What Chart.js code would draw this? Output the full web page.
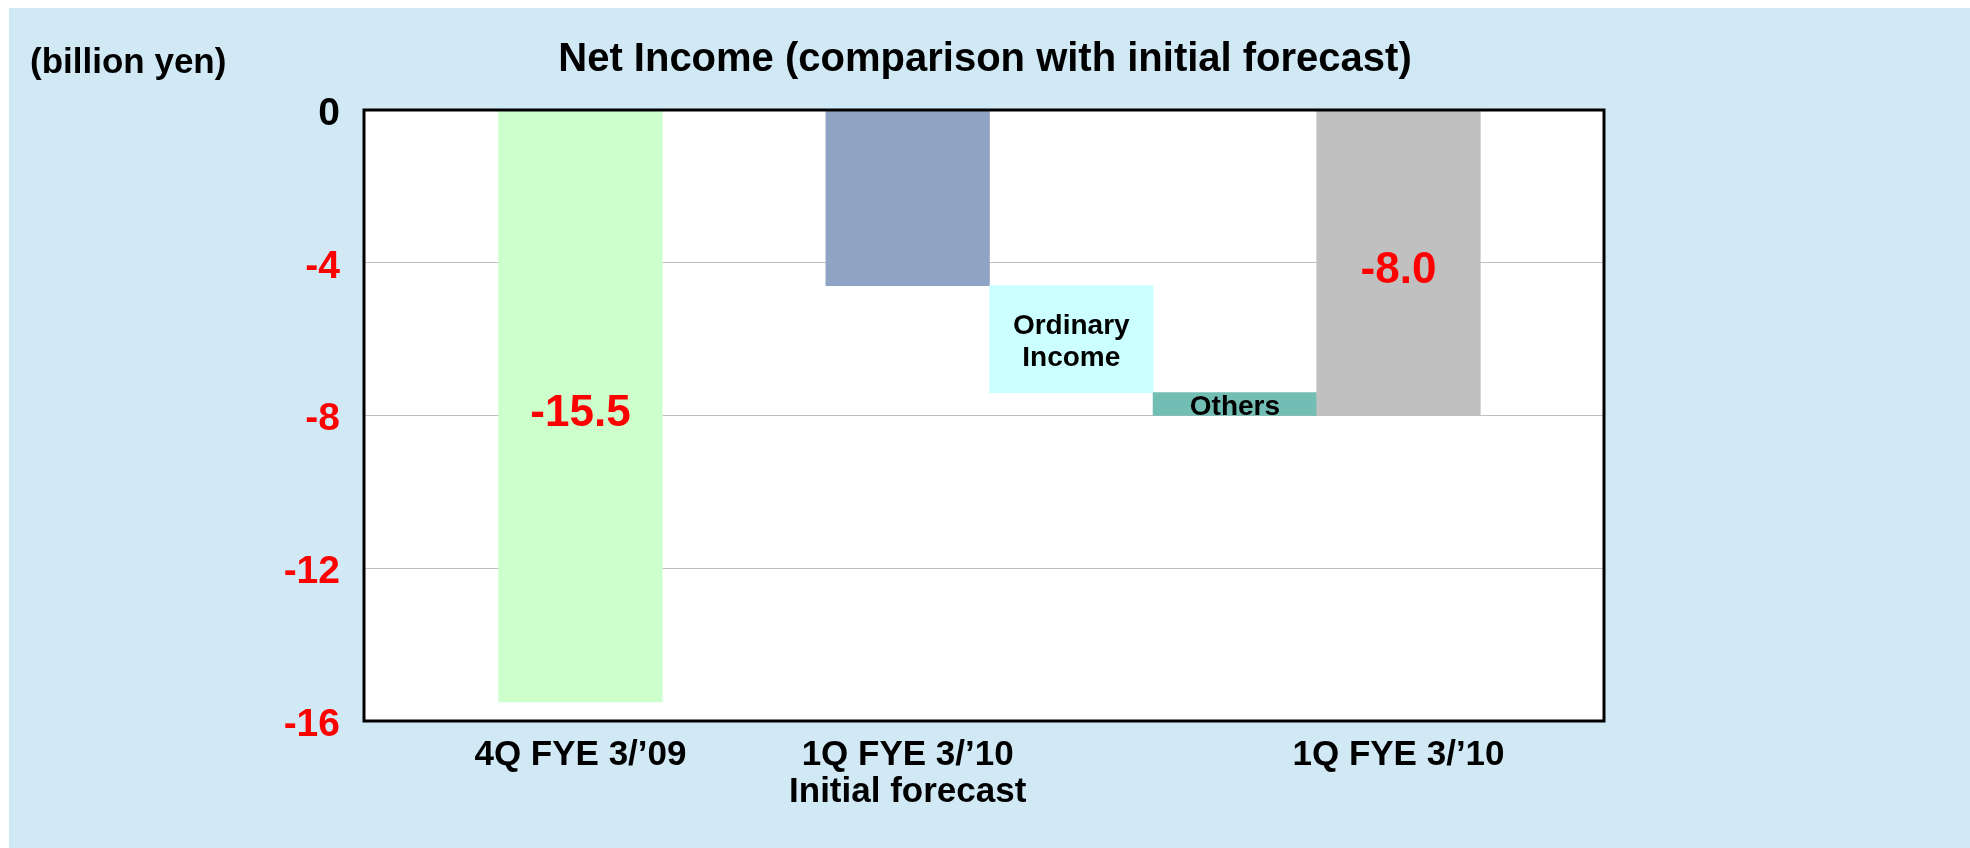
<!DOCTYPE html>
<html>
<head>
<meta charset="utf-8">
<script src="https://cdn.jsdelivr.net/npm/chart.js@4.4.0/dist/chart.umd.min.js"></script>
<style>
  html, body { margin: 0; padding: 0; background: #fff; }
  #wrap { width: 1970px; height: 848px; }
</style>
</head>
<body>
<div id="wrap"><canvas id="netIncomeChart"></canvas></div>
<script>
// Chart data (billion yen)
const categories = ["4Q FYE 3/\u201909", "", "1Q FYE 3/\u201910\nInitial forecast", "Ordinary Income", "Others", "1Q FYE 3/\u201910"];
const barStart = [0, null, 0, -4.6, -7.4, 0];
const barEnd = [-15.5, null, -4.6, -7.4, -8.0, -8.0];
const barLabels = ["-15.5", "", "", "Ordinary\nIncome", "Others", "-8.0"];
const isTotal = [true, false, true, false, false, true];
const yTicks = [0, -4, -8, -12, -16];

const barColors = ['#CCFFCC', null, '#8FA4C5', '#CCFFFF', '#73BEB4', '#C0C0C0'];
const FONT = '"Liberation Sans", Arial, sans-serif';

Chart.defaults.font.family = FONT;
Chart.defaults.font.weight = 'bold';

const points = categories
  .map((c, i) => ({ x: i, y: [barStart[i], barEnd[i]] }))
  .filter(p => p.y[0] !== null);

// background, plot frame, title and unit label
const framePlugin = {
  id: 'frame',
  beforeDraw(chart) {
    const { ctx, chartArea: a } = chart;
    ctx.save();
    ctx.fillStyle = '#D1E8F5';
    ctx.fillRect(9, 8, chart.width - 9, chart.height - 8);
    ctx.fillStyle = '#FFFFFF';
    ctx.fillRect(a.left, a.top, a.right - a.left, a.bottom - a.top);
    ctx.fillStyle = '#000';
    ctx.font = 'bold 35px ' + FONT;
    ctx.textBaseline = 'middle';
    ctx.textAlign = 'left';
    ctx.fillText('(billion yen)', 30, 63);
    ctx.font = 'bold 40px ' + FONT;
    ctx.textAlign = 'center';
    ctx.textBaseline = 'alphabetic';
    ctx.fillText('Net Income (comparison with initial forecast)', 985, 71);
    ctx.restore();
  },
  afterDraw(chart) {
    const { ctx, chartArea: a } = chart;
    ctx.save();
    ctx.strokeStyle = '#000';
    ctx.lineWidth = 3;
    ctx.strokeRect(a.left, a.top, a.right - a.left, a.bottom - a.top);
    ctx.restore();
  }
};

// text inside the bars
const barTextPlugin = {
  id: 'barText',
  afterDatasetsDraw(chart) {
    const { ctx } = chart;
    const meta = chart.getDatasetMeta(0);
    ctx.save();
    ctx.textAlign = 'center';
    ctx.textBaseline = 'middle';
    meta.data.forEach((el, j) => {
      const idx = points[j].x;
      const text = barLabels[idx];
      if (!text) return;
      const cy = (el.y + el.base) / 2;
      if (isTotal[idx]) {
        ctx.fillStyle = '#FF0000';
        ctx.font = 'bold 44px ' + FONT;
        ctx.fillText(text, el.x, cy + 8);
      } else {
        ctx.fillStyle = '#000';
        ctx.font = 'bold 28px ' + FONT;
        const lines = text.split('\n');
        const lh = 32;
        lines.forEach((ln, k) => {
          ctx.fillText(ln, el.x, cy + 3 + (k - (lines.length - 1) / 2) * lh);
        });
      }
    });
    ctx.restore();
  }
};

new Chart(document.getElementById('netIncomeChart'), {
  type: 'bar',
  data: {
    datasets: [{
      data: points,
      backgroundColor: ctx => barColors[ctx.raw ? ctx.raw.x : 0],
      borderWidth: 0,
      barPercentage: 1,
      categoryPercentage: 1
    }]
  },
  options: {
    responsive: true,
    maintainAspectRatio: false,
    animation: false,
    layout: { padding: { left: 0, right: 366, top: 110, bottom: 0 } },
    plugins: {
      legend: { display: false },
      tooltip: { enabled: false },
      title: { display: false }
    },
    scales: {
      x: {
        type: 'linear',
        min: -1.323,
        max: 6.256,
        offset: false,
        grid: { display: false },
        border: { display: false },
        afterFit(scale) { scale.height = 127; },
        afterBuildTicks(scale) {
          scale.ticks = categories.map((c, i) => i).filter(i => isTotal[i]).map(v => ({ value: v }));
        },
        ticks: {
          autoSkip: false,
          maxRotation: 0,
          padding: 7,
          color: '#000',
          font: { size: 35, weight: 'bold', lineHeight: 1.08 },
          callback: value => categories[value].split('\n')
        }
      },
      y: {
        min: Math.min(...yTicks),
        max: Math.max(...yTicks),
        grid: { color: '#BFBFBF', lineWidth: 1, drawTicks: false },
        border: { display: false },
        afterFit(scale) { scale.width = 364; },
        ticks: {
          stepSize: 4,
          padding: 24,
          labelOffset: 4,
          color: ctx => ctx.tick.value === 0 ? '#000' : '#FF0000',
          font: { size: 39, weight: 'bold' }
        }
      }
    }
  },
  plugins: [framePlugin, barTextPlugin]
});
</script>
</body>
</html>
